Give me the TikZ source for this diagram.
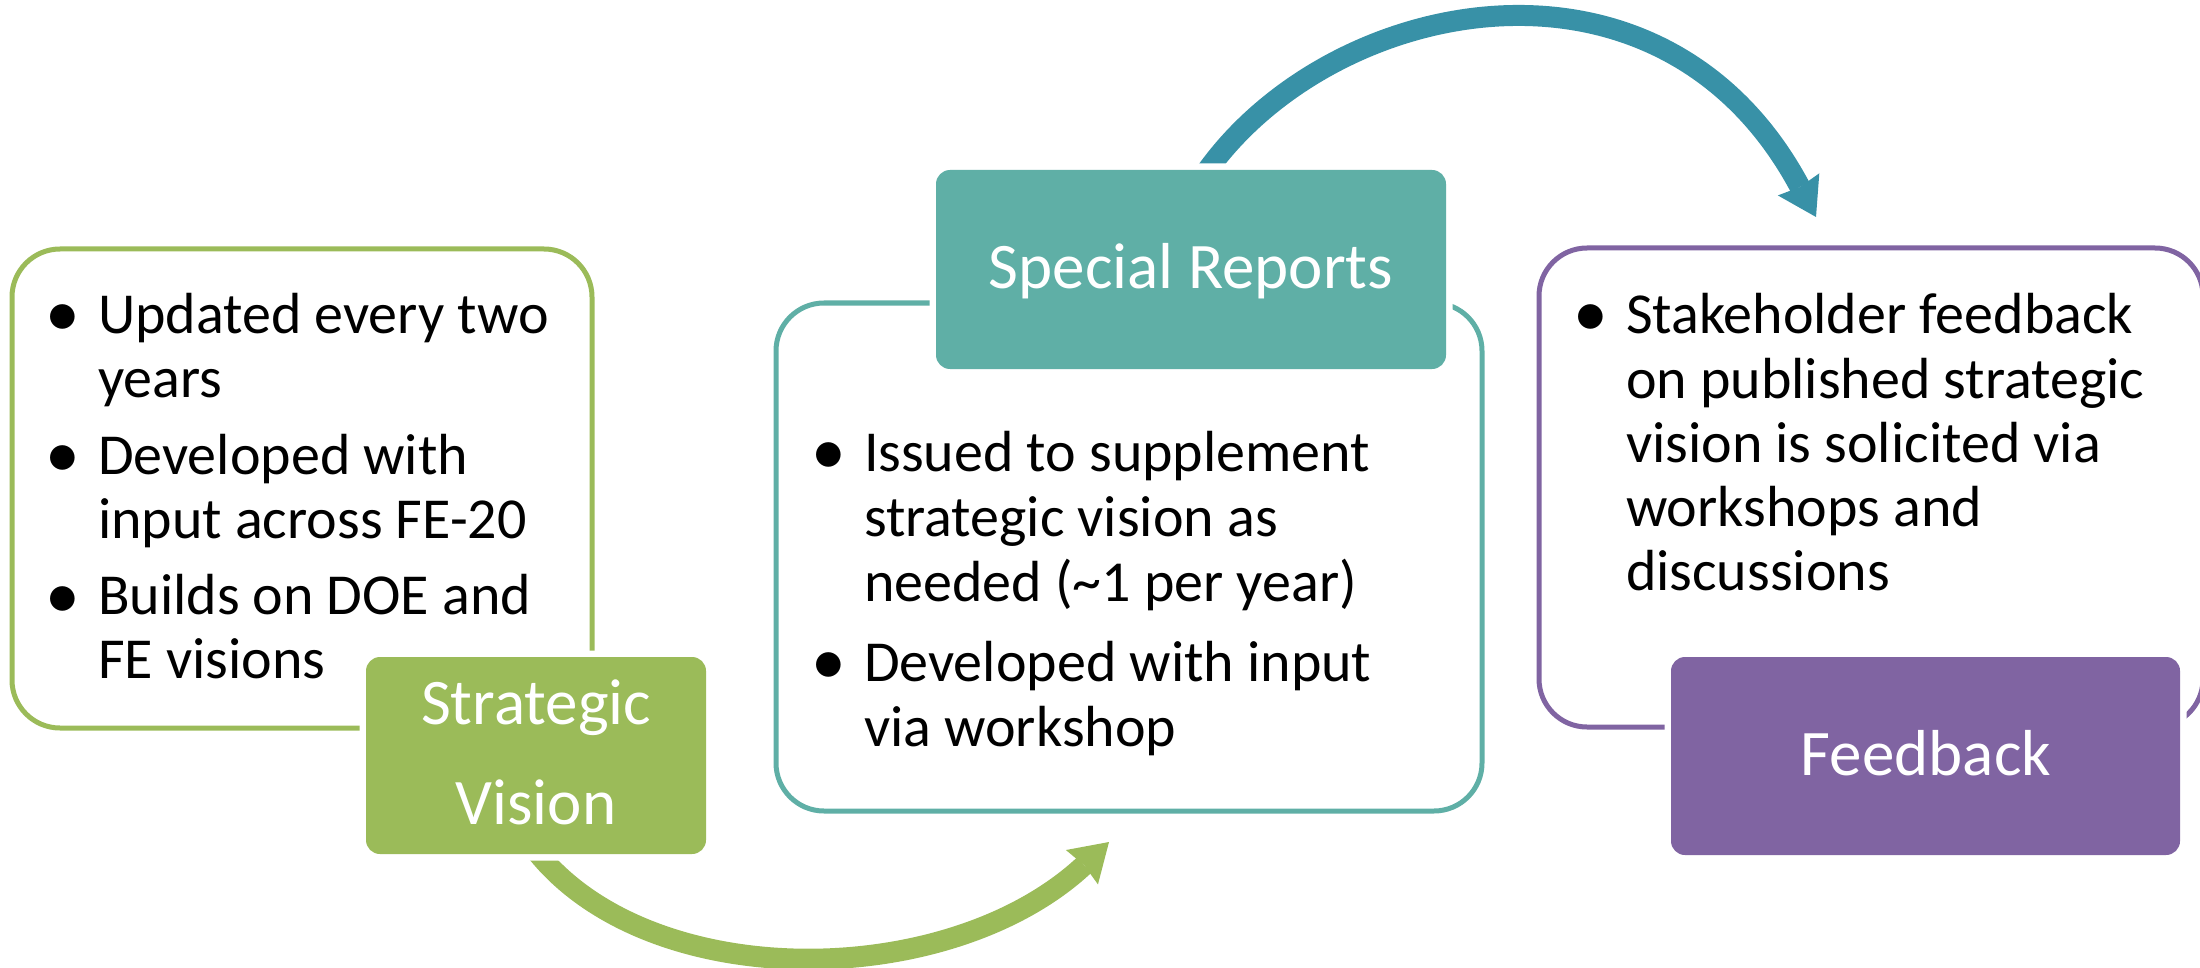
\documentclass[tikz,border=0pt]{standalone}
\usepackage{fontspec}
\setmainfont{Carlito}
\usetikzlibrary{arrows.meta,backgrounds}

\definecolor{svgreen}{HTML}{9BBB59}
\definecolor{srteal}{HTML}{5FAFA6}
\definecolor{fbpurple}{HTML}{8064A2}
\definecolor{loopblue}{HTML}{3891A7}

\newcommand{\bul}{\leavevmode\llap{\makebox[70pt]{\raisebox{-3pt}{\scalebox{1.2}{•}}}}}

\tikzset{
  outlinebox/.style={draw=#1, line width=5pt, rounded corners=48pt,
    inner sep=0pt, outer sep=0pt, fill=none},
  stagebox/.style={fill=#1, rounded corners=14pt, inner sep=0pt, outer sep=0pt,
    preaction={draw=white, line width=13pt}},
  bodytext/.style={anchor=base west, inner sep=0pt, outer sep=0pt, text=black},
  stagetext/.style={anchor=base, inner sep=0pt, outer sep=0pt, text=white,
    font=\fontsize{65}{78}\selectfont},
  looparrow/.style={draw=#1, line width=21pt, line cap=butt,
    -{Stealth[length=37pt, width=47pt, inset=3pt, line width=0pt]}},
}

\begin{document}
\begin{tikzpicture}[x=1pt, y=1pt]
  \useasboundingbox (0,0) rectangle (2200,-968);
  \clip (0,0) rectangle (2200,-968);

  % outlined description panels
  \node[outlinebox=svgreen, minimum width=580pt, minimum height=479pt] (svpanel) at (302,-488.5) {};
  \node[outlinebox=srteal, minimum width=706pt, minimum height=508pt] (srpanel) at (1129,-557) {};
  \node[outlinebox=fbpurple, minimum width=664pt, minimum height=479pt] (fbpanel) at (1871,-487.5) {};

  % filled stage boxes
  \node[stagebox=svgreen, minimum width=340pt, minimum height=197pt] (sv) at (536,-755.5) {};
  \node[stagebox=srteal, minimum width=510pt, minimum height=199pt] (sr) at (1191,-269.5) {};
  \node[stagebox=fbpurple, minimum width=509pt, minimum height=198pt] (fb) at (1925.5,-756) {};

  % stage titles
  \node[stagetext] (svtitle) at (536,-724)
    {\parbox[t]{320pt}{\centering\fontsize{65}{100}\selectfont Strategic\\Vision}};
  \node[stagetext] (srtitle) at (1191,-288) {Special Reports};
  \node[stagetext] (fbtitle) at (1926,-775) {Feedback};

  % bullet lists
  \node[bodytext] (svtext) at (98,-333) {\parbox[t]{560pt}{\fontsize{58}{64}\selectfont\raggedright
    \bul Updated every two\\ years\\[13pt]
    \bul Developed with\\ input across FE-20\\[13pt]
    \bul Builds on DOE and\\ FE visions}};
  \node[bodytext] (srtext) at (864,-471) {\parbox[t]{600pt}{\fontsize{58}{65}\selectfont\raggedright
    \bul Issued to supplement\\ strategic vision as\\ needed (\textasciitilde 1 per year)\\[15pt]
    \bul Developed with input\\ via workshop}};
  \node[bodytext] (fbtext) at (1626,-334) {\parbox[t]{580pt}{\fontsize{58}{64}\selectfont\raggedright
    \bul Stakeholder feedback\\ on published strategic\\ vision is solicited via\\ workshops and\\ discussions}};

  % curved arrows between stages, tucked under the boxes
  \begin{scope}[on background layer]
    \coordinate (g0) at ([shift={(-3,7)}]sv.south);
    \coordinate (g1) at ([shift={(-20,-31)}]srpanel.south);
    \coordinate (b0) at ([shift={(9,-11)}]sr.north);
    \coordinate (b1) at ([shift={(-55,31)}]fbpanel.north);
    \draw[looparrow=svgreen] (g0) .. controls (645,-995) and (948,-992) .. (g1);
    \draw[looparrow=loopblue] (b0) .. controls (1321,3) and (1659.5,76) .. (b1);
  \end{scope}
\end{tikzpicture}
\end{document}
